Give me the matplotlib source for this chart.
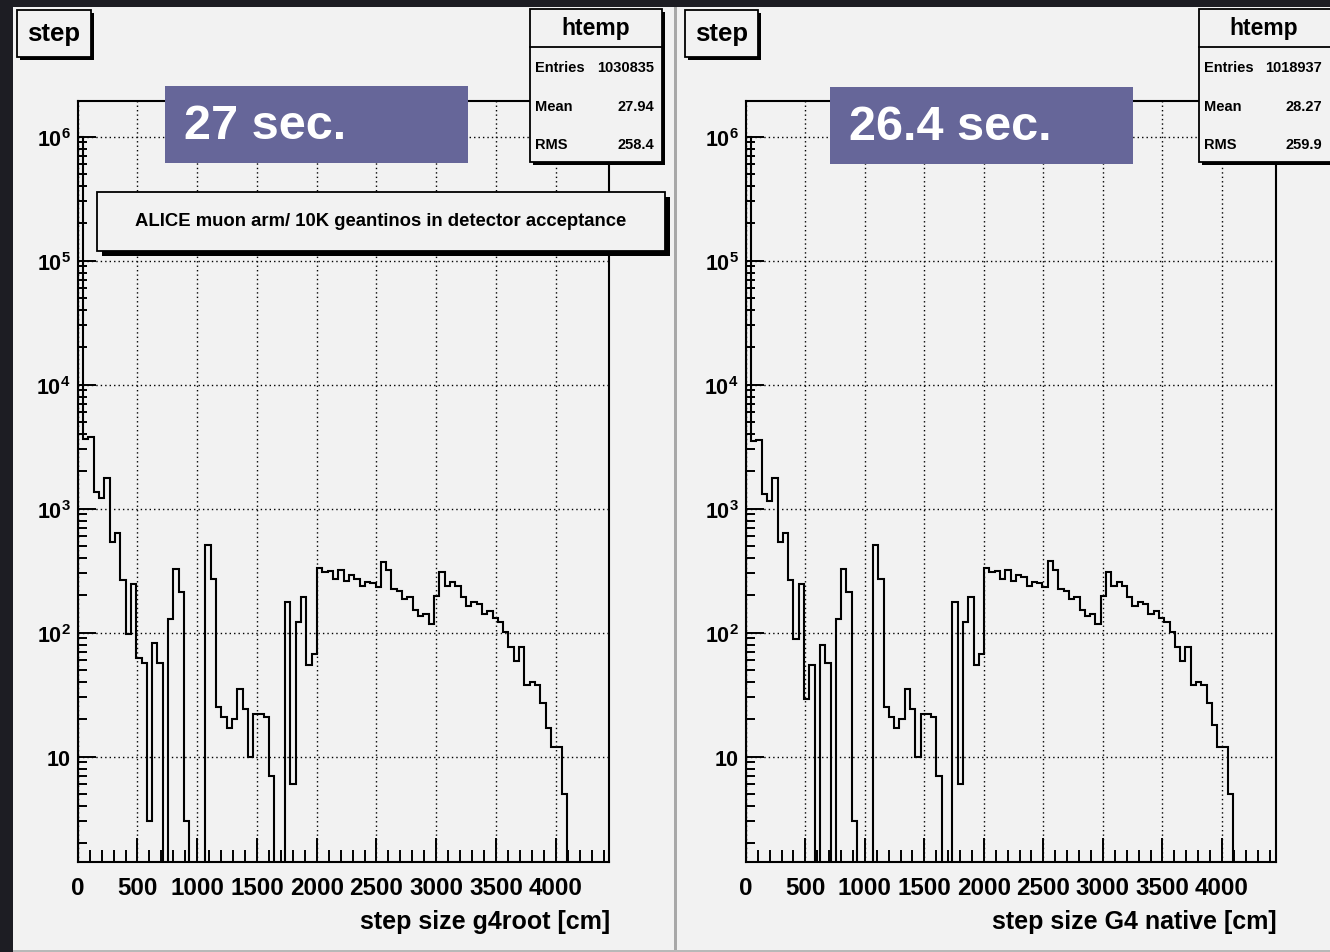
import numpy as np
import matplotlib
matplotlib.use('Agg')
import matplotlib.pyplot as plt
from matplotlib.patches import Rectangle
from matplotlib.ticker import FixedLocator, LogLocator, NullFormatter

plt.rcParams['font.family'] = ['Liberation Sans', 'DejaVu Sans']
plt.rcParams['font.weight'] = 'bold'
plt.rcParams['mathtext.fontset'] = 'custom'
plt.rcParams['mathtext.rm'] = 'Liberation Sans:bold'
plt.rcParams['mathtext.bf'] = 'Liberation Sans:bold'
plt.rcParams['mathtext.it'] = 'Liberation Sans:bold'

# --- data (100 bins of 44.5 cm) ---
xmax = 4450
nbins = 100
edges = np.linspace(0, xmax, nbins + 1)

counts_g4root = [1000000, 3650, 3770, 1370, 1220, 1770, 536, 633, 266, 97,
                 247, 62, 57, 3, 83, 57, 0, 128, 324, 214,
                 3, 0, 0, 0, 510, 271, 25, 21, 17, 20,
                 35, 24, 10, 22, 22, 21, 7, 0, 0, 178,
                 6, 121, 193, 55, 67, 334, 307, 313, 271, 322,
                 263, 292, 271, 239, 258, 252, 232, 369, 322, 225,
                 218, 187, 193, 151, 137, 142, 117, 199, 311, 239,
                 258, 239, 193, 165, 178, 170, 142, 148, 131, 121,
                 101, 76, 59, 76, 38, 40, 38, 27, 17, 12,
                 12, 5, 0, 0, 0, 0, 0, 0, 0, 0]

counts_native = [1000000, 3540, 3600, 1300, 1160, 1770, 536, 633, 266, 89,
                 247, 29, 55, 0, 80, 57, 0, 128, 324, 214,
                 3, 0, 0, 0, 510, 271, 25, 21, 17, 20,
                 35, 24, 10, 22, 22, 21, 7, 0, 0, 178,
                 6, 121, 193, 55, 67, 334, 307, 316, 271, 320,
                 263, 292, 280, 239, 258, 252, 232, 381, 320, 225,
                 218, 187, 193, 151, 137, 142, 117, 199, 311, 239,
                 258, 239, 193, 165, 178, 170, 142, 148, 131, 121,
                 101, 76, 59, 76, 38, 40, 38, 27, 18, 12,
                 12, 5, 0, 0, 0, 0, 0, 0, 0, 0]

x_ticks = [0, 500, 1000, 1500, 2000, 2500, 3000, 3500, 4000]
x_tick_labels = ['0', '500', '1000', '1500', '2000', '2500', '3000', '3500', '4000']
y_ticks = [10, 1e2, 1e3, 1e4, 1e5, 1e6]
y_tick_labels = ['10', r'$10^{2}$', r'$10^{3}$', r'$10^{4}$', r'$10^{5}$', r'$10^{6}$']

x_titles = ['step size g4root [cm]', 'step size G4 native [cm]']
run_times = ['27 sec.', '26.4 sec.']
entries = ['1030835', '1018937']
means = ['27.94', '28.27']
rms = ['258.4', '259.9']
pave_text = 'ALICE muon arm/ 10K geantinos in detector acceptance'

# --- layout (pixels) ---
W, H = 1330, 953
fig = plt.figure(figsize=(W / 100, H / 100), dpi=100)
fig.patch.set_facecolor('#1d1d23')

bg = fig.add_axes([0, 0, 1, 1], zorder=0)
bg.set_xlim(0, W)
bg.set_ylim(H, 0)
bg.axis('off')

ov = fig.add_axes([0, 0, 1, 1], zorder=10)
ov.set_xlim(0, W)
ov.set_ylim(H, 0)
ov.set_facecolor('none')
ov.axis('off')

panel_col = '#f2f2f2'


def box(ax, x0, y0, x1, y1, sh=3, fc=panel_col, ec='black', lw=1.3):
    if sh:
        ax.add_patch(Rectangle((x0 + sh, y0 + sh), x1 - x0, y1 - y0, fc='black', ec='none'))
    ax.add_patch(Rectangle((x0, y0), x1 - x0, y1 - y0, fc=fc, ec=ec, lw=lw))


# panels
bg.add_patch(Rectangle((13, 8), 661, 944, fc=panel_col, ec='none'))
bg.add_patch(Rectangle((677, 8), 660, 944, fc=panel_col, ec='none'))
bg.add_patch(Rectangle((673.5, 8), 3, 944, fc='#a8a8a8', ec='none'))
bg.add_patch(Rectangle((13, 950.5), W, 3, fc='#b8b8b8', ec='none'))

frames = [(77.7, 101.7, 609.5, 862.7), (745.8, 101.7, 1275.5, 862.7)]
step_boxes = [(17, 11, 91, 58), (685, 11, 758, 58)]
stat_boxes = [(530, 10, 662, 163), (1199, 10, 1345, 163)]
blue_boxes = [(165, 87, 468, 164), (830, 88, 1133, 165)]

for i, counts in enumerate([counts_g4root, counts_native]):
    x0, y0, x1, y1 = frames[i]
    ax = fig.add_axes([x0 / W, 1 - y1 / H, (x1 - x0) / W, (y1 - y0) / H], zorder=5)
    ax.set_facecolor('none')
    c = np.array(counts, dtype=float)
    vals = np.where(c > 0, c, 0.1)
    ax.stairs(vals, edges, baseline=0.1, color='black', lw=1.5, zorder=3)
    ax.set_yscale('log')
    ax.set_xlim(0, xmax)
    ax.set_ylim(1.42, 1.95e6)

    ax.xaxis.set_major_locator(FixedLocator(x_ticks))
    ax.set_xticklabels(x_tick_labels)
    ax.xaxis.set_minor_locator(FixedLocator(np.arange(0, 4401, 100)))
    ax.set_yticks(y_ticks)
    ax.set_yticklabels(y_tick_labels)
    ax.yaxis.set_minor_locator(LogLocator(base=10, subs=np.arange(2, 10)))
    ax.yaxis.set_minor_formatter(NullFormatter())

    ax.tick_params(axis='x', which='major', direction='in', length=17, width=1.4,
                   pad=10, labelsize=17.4)
    ax.tick_params(axis='x', which='minor', direction='in', length=9, width=1.4)
    ax.tick_params(axis='y', which='major', direction='in', length=13, width=1.4,
                   pad=5, labelsize=15.5)
    ax.tick_params(axis='y', which='minor', direction='in', length=6.5, width=1.4)
    for lab in ax.get_xticklabels() + ax.get_yticklabels():
        lab.set_fontweight('bold')
    ax.grid(True, which='major', color='black', lw=1.0, linestyle=(0, (1, 2.2)))
    for sp in ax.spines.values():
        sp.set_linewidth(1.5)

    ov.text(x1 + 1, 922, x_titles[i], ha='right', va='center', fontsize=18,
            fontweight='bold')

    # title box
    bx0, by0, bx1, by1 = step_boxes[i]
    box(ov, bx0, by0, bx1, by1, sh=3)
    ov.text((bx0 + bx1) / 2, (by0 + by1) / 2 - 1, 'step', ha='center', va='center',
            fontsize=18.5, fontweight='bold')

    # stats box
    sx0, sy0, sx1, sy1 = stat_boxes[i]
    box(ov, sx0, sy0, sx1, sy1, sh=3)
    ov.plot([sx0, sx1], [48, 48], color='black', lw=1.3)
    hx = 596 if i == 0 else 1264
    ov.text(hx, 29, 'htemp', ha='center', va='center', fontsize=16.5, fontweight='bold')
    vr = 654.5 if i == 0 else 1322
    for y, name, val in [(68, 'Entries', entries[i]), (107, 'Mean', means[i]),
                         (145, 'RMS', rms[i])]:
        ov.text(sx0 + 5, y, name, ha='left', va='center', fontsize=10.5, fontweight='bold')
        ov.text(vr, y, val, ha='right', va='center', fontsize=10.5, fontweight='bold')

    # timing box
    ux0, uy0, ux1, uy1 = blue_boxes[i]
    ov.add_patch(Rectangle((ux0, uy0), ux1 - ux0, uy1 - uy0, fc='#666699', ec='none'))
    ov.text(ux0 + 19, (uy0 + uy1) / 2 + 1, run_times[i], ha='left', va='center',
            fontsize=35, fontweight='bold', color='white')

# comment pave on the left pad
box(ov, 97, 193, 665, 252, sh=5)
ov.text(381, 222, pave_text, ha='center', va='center', fontsize=13.3, fontweight='bold')

fig.savefig('out.png', dpi=100, facecolor=fig.get_facecolor())
